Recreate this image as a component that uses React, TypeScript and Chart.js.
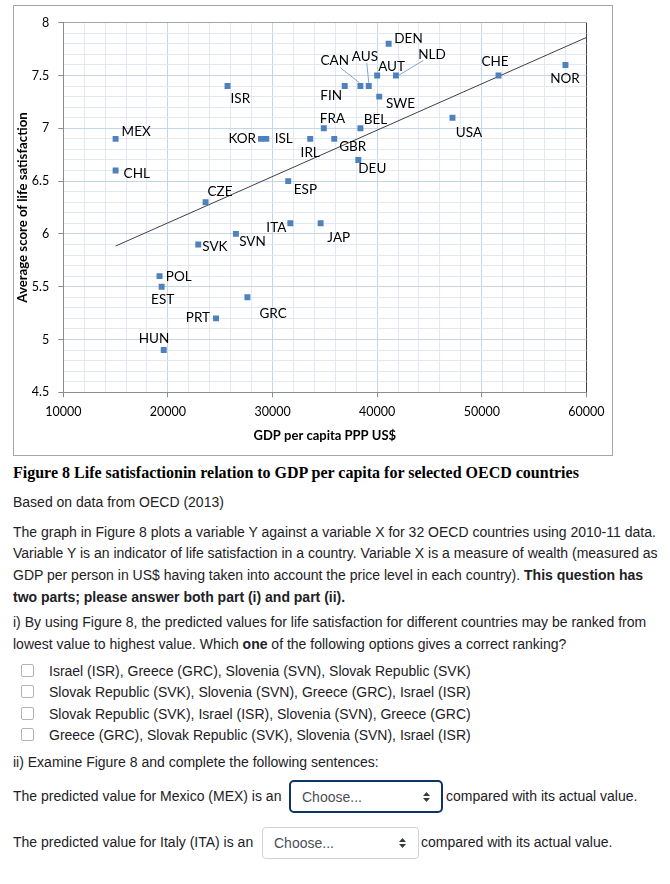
import React, { useEffect, useRef } from "react";
import { Chart, registerables } from "chart.js";
Chart.register(...registerables);

// ---- data ----
const countries = ["MEX","CHL","ISR","CZE","KOR","ISL","IRL","FRA","GBR","ESP","ITA","JAP","SVN","SVK","GRC","POL","EST","PRT","HUN","FIN","CAN","AUS","AUT","NLD","DEN","SWE","BEL","DEU","USA","CHE","NOR"];
const gdpPerCapita = [15000,15000,25700,23600,28900,29400,33600,34900,35900,31500,31700,34600,26500,22900,27600,19200,19400,24600,19600,36900,38400,39200,40000,41800,41100,40200,38400,38200,47200,51600,58000];
const lifeSatisfaction = [6.9,6.6,7.4,6.3,6.9,6.9,6.9,7.0,6.9,6.5,6.1,6.1,6.0,5.9,5.4,5.6,5.5,5.2,4.9,7.4,7.4,7.4,7.5,7.5,7.8,7.3,7.0,6.7,7.1,7.5,7.6];
const trendX = [15000, 60000];
const trendY = [5.885, 7.86];
const xMin = 10000, xMax = 60000, xStep = 2000, xLabelStep = 10000;
const yMin = 4.5, yMax = 8, yStep = 0.1;

// ---- label placement (pixels relative to the marker) ----
type LP = { dx: number; dy: number; align: CanvasTextAlign; lead?: [number, number, number, number] };
const labelPlacement: Record<string, LP> = {
  MEX: { dx: 6, dy: -7, align: "left" },
  CHL: { dx: 8, dy: 3, align: "left" },
  ISR: { dx: 3, dy: 13, align: "left" },
  CZE: { dx: 2, dy: -11, align: "left" },
  KOR: { dx: -5, dy: 0, align: "right" },
  ISL: { dx: 8.5, dy: 0, align: "left" },
  IRL: { dx: 0, dy: 14, align: "center" },
  FRA: { dx: -4, dy: -9.6, align: "left" },
  GBR: { dx: 5, dy: 7.3, align: "left" },
  ESP: { dx: 5.6, dy: 8.4, align: "left" },
  ITA: { dx: -4, dy: 4, align: "right" },
  JAP: { dx: 6.7, dy: 14, align: "left" },
  SVN: { dx: 3.3, dy: 8, align: "left" },
  SVK: { dx: 4, dy: 2, align: "left" },
  GRC: { dx: 12, dy: 16.3, align: "left" },
  POL: { dx: 6.3, dy: 1, align: "left" },
  EST: { dx: 1, dy: 13, align: "center" },
  PRT: { dx: -6, dy: -0.7, align: "right" },
  HUN: { dx: -9.7, dy: -11.6, align: "center" },
  FIN: { dx: -2.7, dy: 10, align: "right" },
  CAN: { dx: -25.7, dy: -25.7, align: "center", lead: [-20, -18.3, -1, -3.3] },
  AUS: { dx: -3.9, dy: -29.3, align: "center", lead: [-2, -23.3, 0, -3.3] },
  AUT: { dx: 1, dy: -9.3, align: "left" },
  NLD: { dx: 36, dy: -21, align: "center", lead: [27.3, -15, 2.3, 0] },
  DEN: { dx: 5.7, dy: -5.4, align: "left" },
  SWE: { dx: 6.7, dy: 6.7, align: "left" },
  BEL: { dx: 3.3, dy: -9, align: "left" },
  DEU: { dx: 0, dy: 9, align: "left" },
  USA: { dx: 3.4, dy: 15.4, align: "left" },
  CHE: { dx: -3.5, dy: -13.7, align: "center" },
  NOR: { dx: -0.5, dy: 13.7, align: "center" },
};

const FONT = "Lato, 'Open Sans', sans-serif";

const labelPlugin = {
  id: "countryLabels",
  afterDatasetsDraw(chart: any) {
    const meta = chart.getDatasetMeta(0);
    const ctx = chart.ctx;
    ctx.save();
    ctx.font = `13.5px ${FONT}`;
    ctx.fillStyle = "#000";
    ctx.textBaseline = "middle";
    meta.data.forEach((pt: any, i: number) => {
      const c = countries[i];
      const p = labelPlacement[c];
      if (!p) return;
      if (p.lead) {
        ctx.strokeStyle = "#7fa6d6";
        ctx.lineWidth = 1;
        ctx.beginPath();
        ctx.moveTo(pt.x + p.lead[0], pt.y + p.lead[1]);
        ctx.lineTo(pt.x + p.lead[2], pt.y + p.lead[3]);
        ctx.stroke();
      }
      ctx.textAlign = p.align;
      ctx.fillText(c, pt.x + p.dx, pt.y + p.dy);
    });
    ctx.restore();
  },
};

const isMult = (v: number, m: number) => Math.abs(v / m - Math.round(v / m)) < 1e-6;

function ScatterChart() {
  const ref = useRef<HTMLCanvasElement | null>(null);
  useEffect(() => {
    if (!ref.current) return;
    const chart = new Chart(ref.current, {
      type: "scatter",
      data: {
        datasets: [
          {
            label: "Countries",
            data: gdpPerCapita.map((x, i) => ({ x, y: lifeSatisfaction[i] })),
            pointStyle: "rect",
            pointRadius: 4.2,
            pointHoverRadius: 4.2,
            pointBorderWidth: 0,
            backgroundColor: "#4f81bd",
            borderColor: "#4f81bd",
          },
          {
            type: "line",
            label: "Trend",
            data: trendX.map((x, i) => ({ x, y: trendY[i] })),
            borderColor: "#404040",
            borderWidth: 1,
            pointRadius: 0,
            fill: false,
          } as any,
        ],
      },
      options: {
        animation: false,
        responsive: false,
        events: [],
        layout: { padding: { left: 0, right: 23.5, top: 16.7, bottom: 0 } },
        plugins: { legend: { display: false }, tooltip: { enabled: false } },
        scales: {
          x: {
            type: "linear",
            min: xMin,
            max: xMax,
            afterFit: (s: any) => { s.height = 62.7; },
            border: { display: true, color: "#8c8c8c", width: 1 },
            grid: {
              color: (c: any) => (c.tick.value === xMax ? "#404040" : isMult(c.tick.value, xLabelStep) ? "#c6d6ea" : "#e1e9f4"),
              tickColor: (c: any) => (isMult(c.tick.value, xLabelStep) ? "#8c8c8c" : "rgba(0,0,0,0)"),
              tickLength: 5,
              lineWidth: 1,
            },
            ticks: {
              stepSize: xStep,
              autoSkip: false,
              maxRotation: 0,
              padding: 7.5,
              color: "#000",
              font: { family: FONT, size: 12.5 },
              callback: (v: any) => (isMult(Number(v), xLabelStep) ? String(v) : ""),
            },
            title: {
              display: true,
              text: "GDP per capita PPP US$",
              color: "#000",
              font: { family: FONT, size: 13, weight: "bold" },
              padding: { top: 0, bottom: 11.5 },
            },
          },
          y: {
            type: "linear",
            min: yMin,
            max: yMax,
            afterFit: (s: any) => { s.width = 49.3; },
            border: { display: true, color: "#8c8c8c", width: 1 },
            grid: {
              color: (c: any) => (isMult(c.tick.value, 0.5) ? (c.tick.value === yMax ? "#a6a6a6" : "#c6d6ea") : "#e1e9f4"),
              tickColor: (c: any) => (isMult(c.tick.value, 0.5) ? "#8c8c8c" : "rgba(0,0,0,0)"),
              tickLength: 5,
              lineWidth: 1,
            },
            ticks: {
              stepSize: yStep,
              autoSkip: false,
              padding: 9,
              color: "#000",
              font: { family: FONT, size: 12.5 },
              callback: (v: any) => (isMult(Number(v), 0.5) ? String(Number(Number(v).toFixed(1))) : ""),
            },
            title: {
              display: true,
              text: "Average score of life satisfaction",
              color: "#000",
              font: { family: FONT, size: 13.2, weight: "bold" },
              padding: { top: 1, bottom: 0 },
            },
          },
        },
      },
      plugins: [labelPlugin],
    } as any);
    return () => chart.destroy();
  }, []);
  return <canvas ref={ref} width={598} height={449} style={{ display: "block" }} />;
}

const TEXT = "#1d2125";
const SANS = "'Liberation Sans', Arial, sans-serif";

function Line({ top, left = 13, children, style }: any) {
  return (
    <div style={{ position: "absolute", top, left, whiteSpace: "nowrap", lineHeight: "20px", fontSize: 14, fontFamily: SANS, color: TEXT, ...style }}>
      {children}
    </div>
  );
}

function Box({ top, left }: any) {
  return <div style={{ position: "absolute", top, left, width: 11, height: 11, border: "1px solid #b4b4b4", borderRadius: 2, background: "#fff" }} />;
}

function Select({ left, top, width, height, focused }: any) {
  return (
    <div
      style={{
        position: "absolute", left, top, width, height, boxSizing: "border-box",
        border: focused ? "2px solid #0f3468" : "1px solid #cfd4da",
        borderRadius: focused ? 5 : 4, background: "#fff",
      }}
    >
      <div style={{ position: "absolute", left: 11, top: 0, bottom: 0, display: "flex", alignItems: "center", fontSize: 14, fontFamily: SANS, color: "#495057" }}>Choose...</div>
      <svg style={{ position: "absolute", right: focused ? 11 : 12, top: "50%", marginTop: -5 }} width="7" height="10" viewBox="0 0 7 10">
        <path d="M3.5 0 L7 4 L0 4 Z" fill="#343a40" />
        <path d="M0 6 L7 6 L3.5 10 Z" fill="#343a40" />
      </svg>
    </div>
  );
}

export default function App() {
  return (
    <div style={{ position: "absolute", left: 0, top: 0, width: 670, height: 884, background: "#fff", overflow: "hidden" }}>
      <div style={{ position: "absolute", left: 13, top: 5, width: 598, height: 449, border: "1px solid #a6a6a6" }}>
        <ScatterChart />
      </div>
      <Line top={463} style={{ fontFamily: "'Liberation Serif', 'Times New Roman', serif", fontWeight: "bold", fontSize: 16, color: "#000" }}>
        Figure 8 Life satisfactionin relation to GDP per capita for selected OECD countries
      </Line>
      <Line top={492}>Based on data from OECD (2013)</Line>
      <Line top={522}>The graph in Figure 8 plots a variable Y against a variable X for 32 OECD countries using 2010-11 data.</Line>
      <Line top={543}>Variable Y is an indicator of life satisfaction in a country. Variable X is a measure of wealth (measured as</Line>
      <Line top={565}>GDP per person in US$ having taken into account the price level in each country). <b>This question has</b></Line>
      <Line top={587}><b>two parts; please answer both part (i) and part (ii).</b></Line>
      <Line top={612}>i) By using Figure 8, the predicted values for life satisfaction for different countries may be ranked from</Line>
      <Line top={634}>lowest value to highest value. Which <b>one</b> of the following options gives a correct ranking?</Line>
      <Box left={21} top={664} />
      <Line top={661} left={49}>Israel (ISR), Greece (GRC), Slovenia (SVN), Slovak Republic (SVK)</Line>
      <Box left={21} top={685} />
      <Line top={682} left={49}>Slovak Republic (SVK), Slovenia (SVN), Greece (GRC), Israel (ISR)</Line>
      <Box left={21} top={707} />
      <Line top={704} left={49}>Slovak Republic (SVK), Israel (ISR), Slovenia (SVN), Greece (GRC)</Line>
      <Box left={21} top={728} />
      <Line top={725} left={49}>Greece (GRC), Slovak Republic (SVK), Slovenia (SVN), Israel (ISR)</Line>
      <Line top={752}>ii) Examine Figure 8 and complete the following sentences:</Line>
      <Line top={786}>The predicted value for Mexico (MEX) is an</Line>
      <Select left={289} top={780} width={154} height={33} focused />
      <Line top={786} left={446}>compared with its actual value.</Line>
      <Line top={832}>The predicted value for Italy (ITA) is an</Line>
      <Select left={262} top={827} width={157} height={32} />
      <Line top={832} left={421}>compared with its actual value.</Line>
    </div>
  );
}
